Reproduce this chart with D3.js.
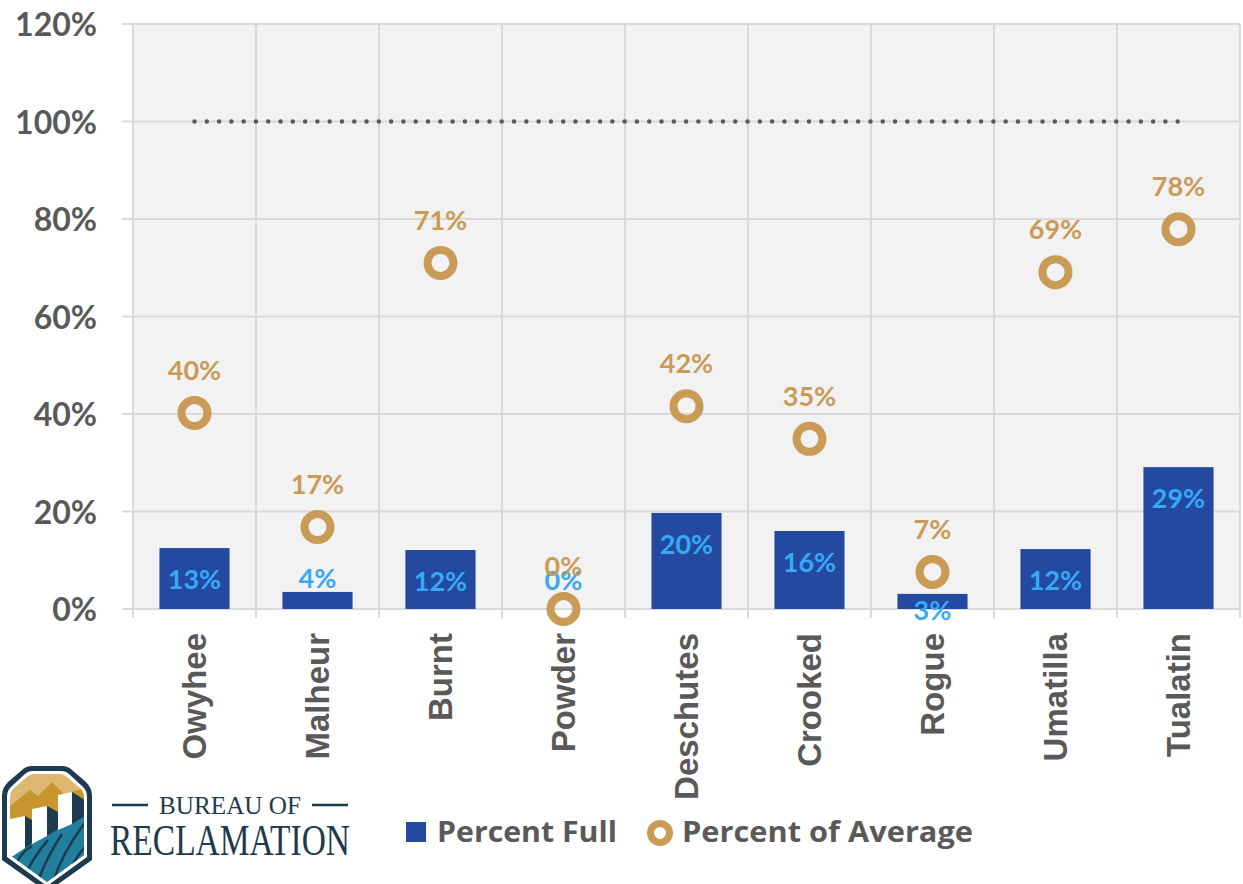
<!DOCTYPE html>
<html>
<head>
<meta charset="utf-8">
<script src="https://cdn.jsdelivr.net/npm/d3@7"></script>
<style>
  html, body { margin: 0; padding: 0; background: #ffffff; }
  svg { display: block; }
</style>
</head>
<body>
<svg id="chart" width="1243" height="884"></svg>
<script>
const categories = ["Owyhee", "Malheur", "Burnt", "Powder", "Deschutes", "Crooked", "Rogue", "Umatilla", "Tualatin"];
const percentFull = [0.125, 0.035, 0.121, 0.0, 0.197, 0.160, 0.031, 0.123, 0.291];
const percentFullLabels = ["13%", "4%", "12%", "0%", "20%", "16%", "3%", "12%", "29%"];
const percentOfAverage = [0.402, 0.168, 0.710, 0.0, 0.416, 0.349, 0.076, 0.691, 0.779];
const percentOfAverageLabels = ["40%", "17%", "71%", "0%", "42%", "35%", "7%", "69%", "78%"];
const yTicks = [0, 0.2, 0.4, 0.6, 0.8, 1.0, 1.2];
const referenceLevel = 1.0;
const seriesNames = ["Percent Full", "Percent of Average"];

const FONT = "Lato, 'Open Sans', sans-serif";
const CATFONT = "'Liberation Sans', Arial, sans-serif";
const LEGFONT = "'Open Sans', Lato, sans-serif";
const GREY = "#595959";
const BAR = "#2349A0";
const BARLBL = "#37A9F5";
const GOLD = "#C99B57";
const GRID = "#d9d9d9";

const svg = d3.select("#chart");
const pLeft = 133, pRight = 1240, pTop = 24, pBottom = 609;

const x = d3.scaleBand().domain(categories).range([pLeft, pRight]).padding(0);
const y = d3.scaleLinear().domain([0, 1.2]).range([pBottom, pTop]);
const barW = x.bandwidth() * 0.57;

// plot background
svg.append("rect").attr("x", pLeft).attr("y", pTop)
  .attr("width", pRight - pLeft).attr("height", pBottom - pTop).attr("fill", "#f2f2f2");

// horizontal grid
svg.append("g").selectAll("line").data(yTicks).join("line")
  .attr("x1", pLeft - 11).attr("x2", pRight)
  .attr("y1", d => y(d)).attr("y2", d => y(d))
  .attr("stroke", GRID).attr("stroke-width", 2);

// vertical grid
const bounds = categories.map(c => x(c)).concat([pRight]);
svg.append("g").selectAll("line").data(bounds).join("line")
  .attr("x1", d => d).attr("x2", d => d)
  .attr("y1", pTop).attr("y2", pBottom + 9)
  .attr("stroke", GRID).attr("stroke-width", 2);

// y axis labels
const yAxis = d3.axisLeft(y).tickValues(yTicks).tickSize(0).tickPadding(36)
  .tickFormat(d => Math.round(d * 100) + "%");
const gy = svg.append("g").attr("transform", `translate(${pLeft},0)`).call(yAxis);
gy.select(".domain").remove();
gy.selectAll("text").attr("font-family", FONT).attr("font-weight", 700)
  .attr("font-size", 32).attr("fill", GREY).attr("dy", "0.36em");

// x axis labels
const xAxis = d3.axisBottom(x).tickSize(0).tickPadding(0);
const gx = svg.append("g").attr("transform", `translate(0,${pBottom})`).call(xAxis);
gx.select(".domain").remove();
gx.selectAll("text")
  .attr("font-family", CATFONT).attr("font-weight", 700).attr("font-size", 33)
  .attr("fill", GREY).attr("text-anchor", "end")
  .attr("transform", "rotate(-90)").attr("x", -24).attr("y", 0).attr("dy", "0.36em");

// bars
svg.append("g").selectAll("rect").data(categories).join("rect")
  .attr("x", c => x(c) + (x.bandwidth() - barW) / 2)
  .attr("width", barW)
  .attr("y", (c, i) => y(percentFull[i]))
  .attr("height", (c, i) => pBottom - y(percentFull[i]))
  .attr("fill", BAR);

// reference dotted line at 100%
const refPts = [categories[0], categories[categories.length - 1]];
const refLine = d3.line().x(c => x(c) + x.bandwidth() / 2).y(() => y(referenceLevel));
const refLen = (x(refPts[1]) - x(refPts[0]));
const nDots = Math.round(refLen / 12.3);
svg.append("path").datum(refPts)
  .attr("d", refLine).attr("fill", "none").attr("stroke", GREY)
  .attr("stroke-width", 4.5).attr("stroke-linecap", "round")
  .attr("stroke-dasharray", `0 ${refLen / nDots - 0.01}`);

// bar labels (inside end; short bars offset like the original)
const shortShift = { "Malheur": -14, "Powder": -29, "Rogue": 16 };
svg.append("g").selectAll("text").data(categories).join("text")
  .attr("x", c => x(c) + x.bandwidth() / 2)
  .attr("y", (c, i) => y(percentFull[i]) + (c in shortShift ? shortShift[c] : 31))
  .attr("dy", "0.36em")
  .attr("text-anchor", "middle")
  .attr("font-family", FONT).attr("font-weight", 700).attr("font-size", 27)
  .attr("fill", BARLBL)
  .text((c, i) => percentFullLabels[i]);

// circles
svg.append("g").selectAll("circle").data(categories).join("circle")
  .attr("cx", c => x(c) + x.bandwidth() / 2)
  .attr("cy", (c, i) => y(percentOfAverage[i]))
  .attr("r", 13).attr("fill", "none").attr("stroke", GOLD).attr("stroke-width", 8);

// circle labels
svg.append("g").selectAll("text").data(categories).join("text")
  .attr("x", c => x(c) + x.bandwidth() / 2)
  .attr("y", (c, i) => y(percentOfAverage[i]) - 43)
  .attr("dy", "0.36em")
  .attr("text-anchor", "middle")
  .attr("font-family", FONT).attr("font-weight", 700).attr("font-size", 27)
  .attr("fill", GOLD)
  .text((c, i) => percentOfAverageLabels[i]);

// legend
const lg = svg.append("g");
lg.append("rect").attr("x", 406).attr("y", 822).attr("width", 20).attr("height", 20).attr("fill", BAR);
lg.append("text").attr("x", 437).attr("y", 832).attr("dy", "0.36em")
  .attr("font-family", LEGFONT).attr("font-weight", 700).attr("font-size", 28).attr("fill", GREY)
  .attr("textLength", 180).attr("lengthAdjust", "spacingAndGlyphs")
  .text(seriesNames[0]);
lg.append("circle").attr("cx", 660).attr("cy", 833).attr("r", 9.5)
  .attr("fill", "none").attr("stroke", GOLD).attr("stroke-width", 7);
lg.append("text").attr("x", 682).attr("y", 832).attr("dy", "0.36em")
  .attr("font-family", LEGFONT).attr("font-weight", 700).attr("font-size", 28).attr("fill", GREY)
  .attr("textLength", 291).attr("lengthAdjust", "spacingAndGlyphs")
  .text(seriesNames[1]);

// logo
const logo = svg.append("g");
const NAVY = "#1d3a4e";
const shield = "M2,796 Q2,788 8,782 L22,770 Q26,766 32,766 L62,766 Q68,766 72,770 L86,782 Q92,788 92,796 L92,860 L47,892 L2,860 Z";
logo.append("path").attr("d", shield).attr("fill", NAVY);
const inner = "M7,797 Q7,790 12,786 L25,774 Q28,771 33,771 L61,771 Q66,771 69,774 L82,786 Q87,790 87,797 L87,857 L47,886 L7,857 Z";
logo.append("path").attr("d", inner).attr("fill", "#ffffff");
const innerClip = "M10,798 Q10,792 14,788 L27,777 Q30,774 34,774 L60,774 Q64,774 67,777 L80,788 Q84,792 84,798 L84,855 L47,882 L10,855 Z";
logo.append("clipPath").attr("id", "shclip").append("path").attr("d", innerClip);
const lc = logo.append("g").attr("clip-path", "url(#shclip)");
lc.append("rect").attr("x", 0).attr("y", 760).attr("width", 100).attr("height", 130).attr("fill", "#dcb873");
lc.append("path").attr("d", "M8,808 L30,790 L38,796 L52,782 L64,794 L92,786 L92,840 L8,840 Z").attr("fill", "#c8962e");
lc.append("path").attr("d", "M8,836 L92,806 L92,890 L8,890 Z").attr("fill", "#1f7f9c");
// columns
lc.append("path").attr("d", "M10,819 L25,816 L25,848 L10,858 Z").attr("fill", "#ffffff");
lc.append("path").attr("d", "M25,816 L32,820 L32,843 L25,848 Z").attr("fill", NAVY);
lc.append("path").attr("d", "M32,809 L47,806 L47,836 L32,844 Z").attr("fill", "#ffffff");
lc.append("path").attr("d", "M47,806 L58,812 L58,829 L47,836 Z").attr("fill", NAVY);
lc.append("path").attr("d", "M58,795 L72,792 L72,824 L58,830 Z").attr("fill", "#ffffff");
lc.append("path").attr("d", "M72,792 L85,800 L85,816 L72,824 Z").attr("fill", NAVY);
// water strokes
const waves = ["M12,872 Q20,852 32,846", "M22,882 Q32,858 48,840", "M36,886 Q46,858 62,834", "M52,886 Q60,856 84,824", "M66,884 Q72,860 86,846"];
lc.selectAll("path.w").data(waves).join("path").attr("class", "w").attr("d", d => d)
  .attr("fill", "none").attr("stroke", NAVY).attr("stroke-width", 2.5);

logo.append("line").attr("x1", 112).attr("x2", 148).attr("y1", 805).attr("y2", 805).attr("stroke", NAVY).attr("stroke-width", 2.5);
logo.append("line").attr("x1", 312).attr("x2", 348).attr("y1", 805).attr("y2", 805).attr("stroke", NAVY).attr("stroke-width", 2.5);
logo.append("text").attr("x", 230).attr("y", 814).attr("text-anchor", "middle")
  .attr("font-family", "'Liberation Serif', 'DejaVu Serif', serif").attr("font-size", 25)
  .attr("fill", NAVY).attr("textLength", 142).attr("lengthAdjust", "spacingAndGlyphs")
  .text("BUREAU OF");
logo.append("text").attr("x", 110).attr("y", 855)
  .attr("font-family", "'Liberation Serif', 'DejaVu Serif', serif").attr("font-size", 44)
  .attr("fill", NAVY).attr("textLength", 240).attr("lengthAdjust", "spacingAndGlyphs")
  .text("RECLAMATION");
</script>
</body>
</html>
